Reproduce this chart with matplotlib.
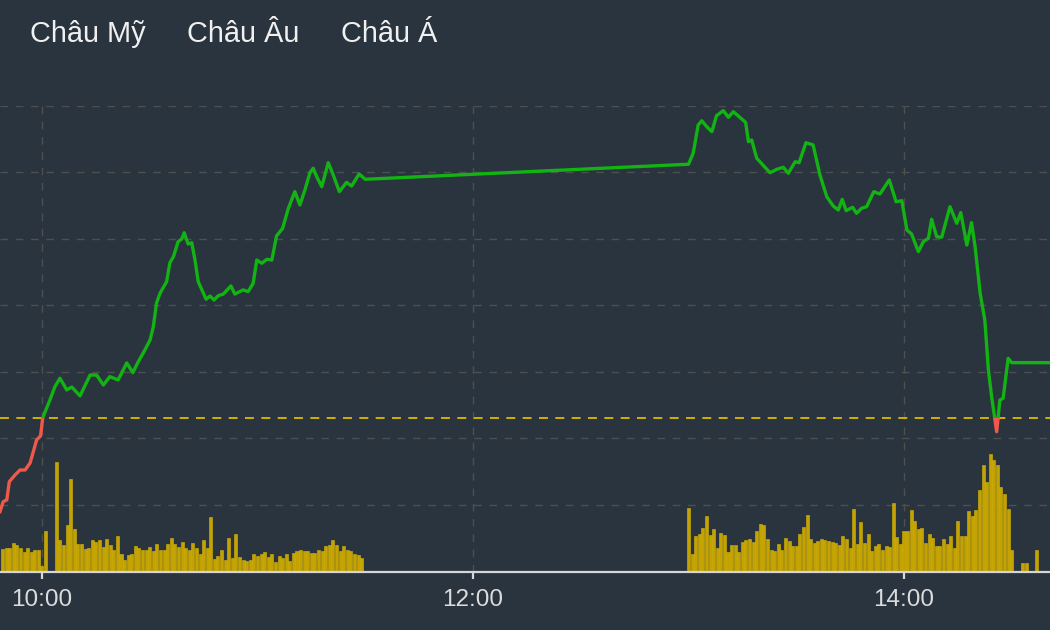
import numpy as np
import matplotlib
matplotlib.use("Agg")
import matplotlib.pyplot as plt
from matplotlib.patches import Rectangle

plt.rcParams['font.family'] = ['Liberation Sans', 'DejaVu Sans']

BG = '#29343f'
GREEN = '#12b312'
RED = '#f0584a'
GOLD = '#c4a300'

# tabs on top
tabs = ['Châu Mỹ', 'Châu Âu', 'Châu Á']
tab_x = [30, 187, 341]

# reference price (previous close)
ref_price = 1176.55

# price path: minutes after 10:00 and index value
price_t = [-11.7, -10.8, -9.8, -9.1, -7.5, -6.1, -4.7, -3.3, -1.5, -0.4, 0.2,
           2.2, 3.6, 5.0, 6.9, 8.3, 10.6, 13.4, 15.2, 17.1, 18.9, 21.2, 23.6,
           25.3, 26.8, 28.2, 30.1, 31.0, 31.9, 32.9, 34.7, 35.6, 36.6, 37.9,
           38.9, 39.6, 40.7, 41.7, 42.6, 43.5, 45.7, 46.8, 47.9, 49.1, 50.5,
           52.6, 53.7, 56.0, 57.4, 58.8, 59.8, 61.2, 62.6, 64.0, 65.3, 67.0,
           68.6, 70.4, 71.8, 73.2, 74.6, 75.5, 76.5, 77.9, 79.7, 81.1, 82.8,
           84.8, 86.2, 88.3, 90.0,
           180.0, 181.3, 182.7, 183.7, 185.1, 186.5, 187.8, 189.7, 191.1,
           192.5, 194.3, 195.9, 196.7, 197.6, 199.0, 202.7, 204.6, 206.4,
           207.8, 209.7, 210.8, 212.7, 214.7, 216.6, 218.5, 220.3, 221.7,
           222.8, 223.9, 225.7, 226.8, 228.2, 229.6, 231.6, 233.3, 235.9,
           237.8, 239.4, 240.8, 242.1, 244.0, 245.4, 246.8, 247.7, 249.1,
           250.5, 252.8, 254.7, 255.8, 257.5, 258.8, 259.8, 261.2, 262.5,
           263.5, 264.4, 265.8, 266.7, 267.6, 269.0, 270.0, 285.0]
price_v = [1169.50, 1170.25, 1170.38, 1171.75, 1172.26, 1172.63, 1172.63,
           1173.16, 1174.89, 1175.19, 1176.55,
           1177.89, 1178.89, 1179.53, 1178.65, 1178.87, 1178.20, 1179.77,
           1179.77, 1179.02, 1179.65, 1179.40, 1180.68, 1179.95, 1180.77,
           1181.43, 1182.41, 1183.41, 1185.19, 1185.94, 1186.79, 1188.20,
           1188.67, 1189.80, 1190.00, 1190.47, 1189.62, 1189.72, 1188.42,
           1186.79, 1185.47, 1185.71, 1185.41, 1185.74, 1185.86, 1186.47,
           1185.86, 1186.17, 1186.04, 1186.67, 1188.42, 1188.17, 1188.47,
           1188.42, 1190.23, 1190.80, 1192.31, 1193.56, 1192.56, 1193.68,
           1194.98, 1195.32, 1194.68, 1193.93, 1195.74, 1194.81, 1193.56,
           1194.26, 1193.98, 1194.89, 1194.49,
           1195.62, 1196.44, 1198.57, 1198.89, 1198.44, 1198.07, 1199.27,
           1199.65, 1199.15, 1199.57, 1199.15, 1198.77, 1197.32, 1197.44,
           1196.07, 1194.98, 1195.24, 1195.39, 1194.94, 1195.81, 1195.74,
           1197.24, 1197.07, 1194.81, 1193.18, 1192.48, 1192.18, 1192.98,
           1192.13, 1192.38, 1191.93, 1192.31, 1192.43, 1193.56, 1193.38,
           1194.44, 1192.80, 1192.88, 1190.68, 1190.38, 1189.05, 1189.80,
           1190.05, 1191.48, 1190.17, 1190.13, 1192.43, 1191.18, 1191.98,
           1189.55, 1191.23, 1189.42, 1185.92, 1183.91, 1180.15, 1178.14,
           1175.51, 1177.89, 1178.02, 1181.03, 1180.70, 1180.70]

# per-minute volume, morning session starts 9:49
vol_am = [23, 24, 24, 29, 27, 24, 20, 24, 20, 22, 22,
          6, 41, 0, 0,
          110, 32, 27, 47, 93, 43, 28, 28, 23, 24,
          32, 30, 32, 25, 33, 27, 22, 36, 18, 12,
          17, 18, 26, 24, 22, 22, 25, 21, 28, 22,
          22, 28, 34, 28, 25, 30, 24, 22, 29, 24,
          18, 32, 24, 55, 13, 16, 22, 12, 34, 14,
          38, 15, 12, 11, 12, 18, 16, 18, 20, 15,
          18, 10, 16, 14, 18, 11, 19, 21, 22, 21,
          21, 19, 19, 22, 21, 26, 27, 32, 27, 21,
          26, 22, 21, 18, 17, 14]
# afternoon session 13:00 - 14:30
vol_pm = [64, 18, 36, 38, 44, 56, 37, 43, 24, 39,
          37, 20, 27, 27, 20, 30, 32, 33, 30, 41,
          48, 47, 33, 22, 21, 28, 22, 34, 31, 26,
          26, 38, 45, 57, 33, 29, 31, 33, 32, 31,
          30, 29, 27, 36, 33, 24, 63, 28, 50, 29,
          38, 21, 26, 28, 22, 26, 25, 69, 35, 28,
          41, 41, 62, 51, 43, 44, 29, 38, 34, 26,
          26, 33, 28, 36, 24, 51, 36, 36, 61, 56,
          62, 82, 107, 90, 118, 112, 107, 85, 78, 63,
          22]
# closing auction trades
atc_t = [273, 274, 277]
atc_v = [9, 9, 22]

tick_t = [0, 120, 240]
tick_labels = ['10:00', '12:00', '14:00']

xmin, xmax = -11.69, 280.65
ymin, ymax = 1164.96, 1200.0

fig = plt.figure(figsize=(10.5, 6.3), dpi=100, facecolor=BG)
rect = [0.0, 1 - 572 / 630, 1.0, (572 - 106) / 630]

# bottom layer: grid
ax = fig.add_axes(rect, facecolor=BG)
ax.set_xlim(xmin, xmax)
ax.set_ylim(ymin, ymax)
ax.set_xticks(tick_t)
ax.set_yticks(np.arange(1170, 1201, 5))
ax.grid(True, color='#4e4f4f', linestyle=(0, (5.5, 5.5)), linewidth=1.0)
ax.tick_params(length=0, labelbottom=False, labelleft=False)
for s in ax.spines.values():
    s.set_visible(False)

# middle layer: volume bars
axv = fig.add_axes(rect)
axv.patch.set_visible(False)
axv.set_xlim(xmin, xmax)
axv.set_ylim(0, 466)
axv.axis('off')
bar_kw = dict(width=0.84, color=GOLD, edgecolor='#d6b40a', linewidth=0.4)
axv.bar(np.arange(-11, 90), vol_am, **bar_kw)
axv.bar(np.arange(180, 271), vol_pm, **bar_kw)
axv.bar(atc_t, atc_v, **bar_kw)

# top layer: price line, reference line, axis
axl = fig.add_axes(rect)
axl.patch.set_visible(False)
axl.set_xlim(xmin, xmax)
axl.set_ylim(ymin, ymax)
axl.axhline(ref_price, color='#d4b000', linewidth=1.4, linestyle=(0, (4.6, 3.8)))

up, = axl.plot(price_t, price_v, color=GREEN, linewidth=2.4, solid_joinstyle='round')
up.set_clip_path(Rectangle((xmin - 50, ref_price), 500, 100, transform=axl.transData))
dn, = axl.plot(price_t, price_v, color=RED, linewidth=2.4, solid_joinstyle='round')
dn.set_clip_path(Rectangle((xmin - 50, ref_price - 100), 500, 100, transform=axl.transData))

for name in ['top', 'left', 'right']:
    axl.spines[name].set_visible(False)
axl.spines['bottom'].set_color('#d6d6d6')
axl.spines['bottom'].set_linewidth(1.6)
axl.set_yticks([])
axl.set_xticks(tick_t)
axl.set_xticklabels(tick_labels)
axl.tick_params(axis='x', colors='#d6d6d6', length=5, width=1.6, pad=7,
                labelsize=17.5, labelcolor='#dcdcdc')

for label, x in zip(tabs, tab_x):
    fig.text(x / 1050, 1 - 34 / 630, label, color='#f0f0f0', fontsize=20.8,
             ha='left', va='center')

fig.savefig('out.png', dpi=100, facecolor=BG)
